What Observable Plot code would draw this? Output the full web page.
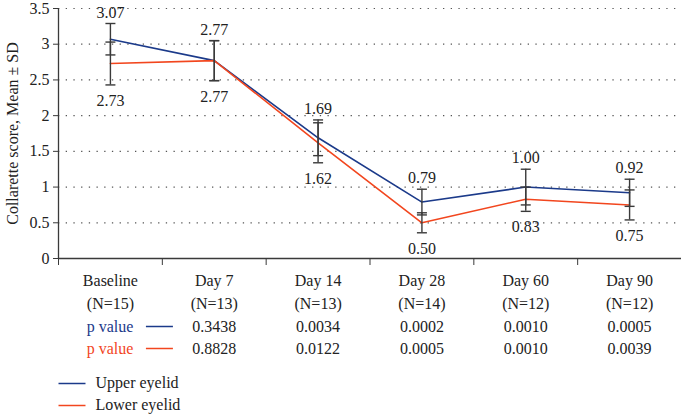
<!DOCTYPE html>
<html>
<head>
<meta charset="utf-8">
<script src="https://cdn.jsdelivr.net/npm/d3@7"></script>
<script src="https://cdn.jsdelivr.net/npm/@observablehq/plot@0.6"></script>
<style>
  html, body { margin: 0; padding: 0; background: #fff; }
  #chart svg { display: block; }
  #chart svg, #chart svg text { font-family: "Liberation Serif", "Times New Roman", serif !important; }
</style>
</head>
<body>
<div id="chart"></div>
<script>
// ---- data ----
const days = ["Baseline", "Day 7", "Day 14", "Day 28", "Day 60", "Day 90"];
const nLabels = ["(N=15)", "(N=13)", "(N=13)", "(N=14)", "(N=12)", "(N=12)"];
const upperMean = [3.07, 2.77, 1.69, 0.79, 1.00, 0.92];
const upperSD   = [0.22, 0.28, 0.25, 0.18, 0.25, 0.19];
const lowerMean = [2.73, 2.77, 1.62, 0.50, 0.83, 0.75];
const lowerSD   = [0.30, 0.28, 0.28, 0.14, 0.17, 0.21];
const pUpper = ["", "0.3438", "0.0034", "0.0002", "0.0010", "0.0005"];
const pLower = ["", "0.8828", "0.0122", "0.0005", "0.0010", "0.0039"];
const yTicks = [0, 0.5, 1, 1.5, 2, 2.5, 3, 3.5];
const seriesNames = ["Upper eyelid", "Lower eyelid"];

const BLUE = "#1b3a8a";
const RED = "#f2461e";
const GRAY = "#3a3a3a";
const FONT = "Liberation Serif";
const FS = 16;

const rows = [];
days.forEach((d, i) => {
  rows.push({i, series: seriesNames[0], mean: upperMean[i], sd: upperSD[i]});
  rows.push({i, series: seriesNames[1], mean: lowerMean[i], sd: lowerSD[i]});
});
const upperRows = rows.filter(r => r.series === seriesNames[0]);
const lowerRows = rows.filter(r => r.series === seriesNames[1]);

const hLine = { draw(ctx, size) { const w = Math.sqrt(size / Math.PI); ctx.moveTo(-w, 0); ctx.lineTo(w, 0); } };
const idx = days.map((d, i) => i);
const bounds = d3.range(days.length + 1).map(k => k - 0.5);
const T = { fontSize: FS, fill: "#222", fontFamily: FONT };

const plot = Plot.plot({
  width: 681,
  height: 415,
  marginLeft: 58,
  marginRight: 0,
  marginTop: 8,
  marginBottom: 157,
  style: { fontFamily: FONT, fontSize: FS + "px", color: "#222", background: "#fff" },
  x: { type: "linear", domain: [-0.5, days.length - 0.5], axis: null, label: null },
  y: { domain: [0, 3.5], axis: null, label: null },
  marks: [
    // dotted grid
    Plot.ruleY(yTicks.filter(t => t > 0), { stroke: "#555", strokeDasharray: "1.3,6.4", strokeWidth: 1.2 }),
    // y axis
    Plot.axisY({ ticks: yTicks, tickSize: 5, tickPadding: 4, stroke: GRAY, fontSize: FS, fontFamily: FONT, label: null, tickFormat: d => String(d) }),
    Plot.ruleX([-0.5], { y1: 0, y2: 3.5, stroke: GRAY, strokeWidth: 1.3 }),
    Plot.text(["Collarette score, Mean ± SD"], { ...T, frameAnchor: "left", textAnchor: "middle", rotate: -90, dx: -46 }),
    // x axis
    Plot.ruleY([0], { stroke: GRAY, strokeWidth: 1.3 }),
    Plot.axisX({ ticks: bounds, tickSize: 7, tickFormat: () => "", stroke: GRAY, label: null }),
    Plot.text(idx, { ...T, x: i => i, y: () => 0, text: i => days[i], dy: 22 }),
    Plot.text(idx, { ...T, x: i => i, y: () => 0, text: i => nLabels[i], dy: 45 }),
    // p-value rows
    Plot.text([0], { ...T, x: 0, y: () => 0, text: () => "p value", dx: 23, dy: 68, textAnchor: "end", fill: BLUE }),
    Plot.dot([0], { x: 0, y: () => 0, dx: 49, dy: 68, symbol: hLine, r: 13.5, stroke: BLUE, strokeWidth: 1.5 }),
    Plot.text(idx.filter(i => pUpper[i]), { ...T, x: i => i, y: () => 0, text: i => pUpper[i], dy: 68 }),
    Plot.text([0], { ...T, x: 0, y: () => 0, text: () => "p value", dx: 23, dy: 90, textAnchor: "end", fill: RED }),
    Plot.dot([0], { x: 0, y: () => 0, dx: 49, dy: 90, symbol: hLine, r: 13.5, stroke: RED, strokeWidth: 1.5 }),
    Plot.text(idx.filter(i => pLower[i]), { ...T, x: i => i, y: () => 0, text: i => pLower[i], dy: 90 }),
    // legend
    Plot.dot([0], { x: -0.5, y: () => 0, dx: 13.5, dy: 125, symbol: hLine, r: 13.5, stroke: BLUE, strokeWidth: 1.5 }),
    Plot.text([seriesNames[0]], { ...T, x: -0.5, y: () => 0, dx: 37, dy: 124, textAnchor: "start" }),
    Plot.dot([0], { x: -0.5, y: () => 0, dx: 13.5, dy: 147, symbol: hLine, r: 13.5, stroke: RED, strokeWidth: 1.5 }),
    Plot.text([seriesNames[1]], { ...T, x: -0.5, y: () => 0, dx: 37, dy: 146, textAnchor: "start" }),
    // series lines
    Plot.line(upperRows, { x: "i", y: "mean", stroke: BLUE, strokeWidth: 1.6 }),
    Plot.line(lowerRows, { x: "i", y: "mean", stroke: RED, strokeWidth: 1.6 }),
    // error bars
    Plot.ruleX(rows, { x: "i", y1: d => d.mean - d.sd, y2: d => d.mean + d.sd, stroke: GRAY, strokeWidth: 1.4 }),
    Plot.dot(rows, { x: "i", y: d => d.mean + d.sd, symbol: hLine, r: 5, stroke: GRAY, strokeWidth: 1.4 }),
    Plot.dot(rows, { x: "i", y: d => d.mean - d.sd, symbol: hLine, r: 5, stroke: GRAY, strokeWidth: 1.4 }),
    // value labels
    Plot.text(upperRows, { ...T, x: "i", y: d => d.mean + d.sd, text: d => d.mean.toFixed(2), dy: -11 }),
    Plot.text(lowerRows, { ...T, x: "i", y: d => d.mean - d.sd, text: d => d.mean.toFixed(2), dy: 16 })
  ]
});
document.getElementById("chart").appendChild(plot);
</script>
</body>
</html>
